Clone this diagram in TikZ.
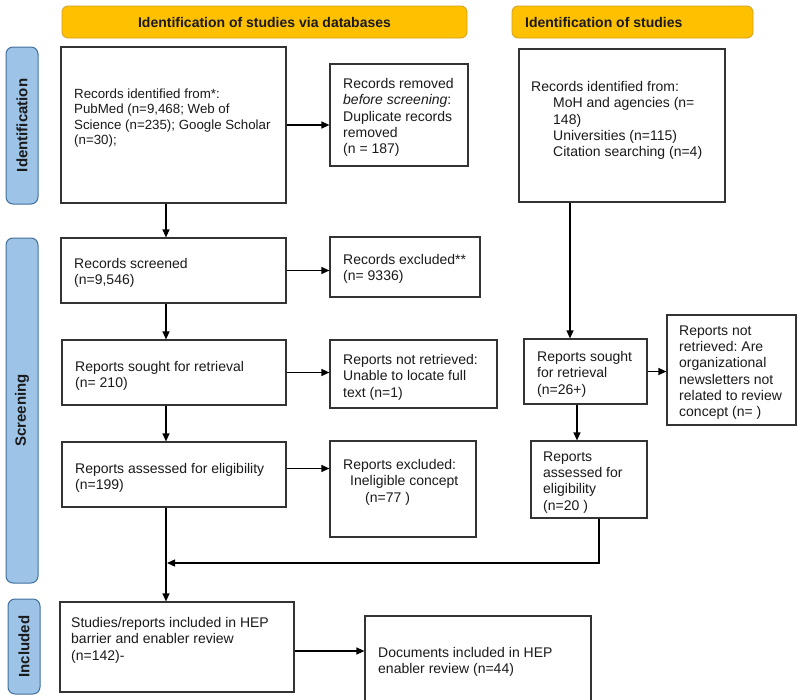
\documentclass[tikz,border=0pt]{standalone}
\usepackage{fontspec}
\setmainfont{Liberation Sans}
\usetikzlibrary{arrows.meta,calc}
\frenchspacing
\definecolor{hdrfill}{HTML}{FFC000}
\definecolor{hdrdraw}{HTML}{D4A017}
\definecolor{barfill}{HTML}{9DC3E6}
\definecolor{bardraw}{HTML}{41719C}
\definecolor{boxdraw}{HTML}{333333}
\definecolor{ink}{HTML}{1A1A1A}
\begin{document}
\begin{tikzpicture}[x=1pt,y=-1pt,
  box/.style={draw=boxdraw,line width=1.2pt,inner sep=0pt,fill=white},
  txt/.style={inner sep=0pt,align=left,anchor=north west,text=ink,yshift=3.7pt,
    font=\fontsize{14}{16.3}\selectfont,execute at begin node=\strut},
  txtsmall/.style={txt,yshift=0.5pt,font=\fontsize{13.3}{15.3}\selectfont},
  hdr/.style={draw=hdrdraw,fill=hdrfill,rounded corners=6pt,line width=0.8pt,inner sep=0pt},
  bar/.style={draw=bardraw,fill=barfill,rounded corners=7pt,line width=1pt,inner sep=0pt},
  hdrtxt/.style={font=\fontsize{14}{16}\selectfont\bfseries,text=ink,inner sep=0pt},
  bartxt/.style={font=\fontsize{15}{17}\selectfont\bfseries,text=ink,inner sep=0pt,rotate=90},
  arr/.style={draw=black,line width=1.2pt,-{Triangle[length=8pt,width=7pt]}}]
\useasboundingbox (0,0) rectangle (800,699);
\clip (0,0) rectangle (800,699);
\fill[white] (0,0) rectangle (800,699);

% headers
\node[hdr,minimum width=405,minimum height=32] (h1) at (264.5,22) {};
\node[hdrtxt] (h1t) at (h1.center) {Identification of studies via databases};
\node[hdr,minimum width=241,minimum height=32] (h2) at (632.5,22) {};
\node[hdrtxt,anchor=west] (h2t) at (525,22) {Identification of studies};

% side bars
\node[bar,minimum width=32,minimum height=157] (barI) at (22,125.5) {};
\node[bartxt] (barIt) at (barI.center) {Identification};
\node[bar,minimum width=32,minimum height=345] (barS) at (22,410.5) {};
\node[bartxt] (barSt) at (barS.center) {Screening};
\node[bar,minimum width=32,minimum height=95] (barN) at (24,646.5) {};
\node[bartxt] (barNt) at (barN.center) {Included};

% boxes
\node[box,minimum width=225,minimum height=156] (A) at (173.5,125) {};
\node[box,minimum width=138,minimum height=102] (rem) at (399,115) {};
\node[box,minimum width=206,minimum height=153] (B) at (622,125.5) {};
\node[box,minimum width=225,minimum height=65] (scr) at (173.5,270.5) {};
\node[box,minimum width=150,minimum height=60] (exc) at (405,267) {};
\node[box,minimum width=224,minimum height=65] (sou) at (174,372.5) {};
\node[box,minimum width=167,minimum height=68] (nr) at (413.5,374) {};
\node[box,minimum width=224,minimum height=65] (ass) at (174,474.5) {};
\node[box,minimum width=146,minimum height=96] (rex) at (403,489) {};
\node[box,minimum width=123,minimum height=65] (rsou) at (585.5,371.5) {};
\node[box,minimum width=129,minimum height=110] (rnr) at (731.5,370) {};
\node[box,minimum width=116,minimum height=77] (rass) at (589,479.5) {};
\node[box,minimum width=234,minimum height=90] (stu) at (177,647) {};
\node[box,minimum width=226,minimum height=104] (doc) at (478,668) {};

% texts
\node[txtsmall] (tA) at (74,93) {Records identified from*:\\PubMed (n=9,468; Web of\\Science (n=235); Google Scholar\\(n=30);};
\node[txt] (tRem) at (343,82) {Records removed\\\textit{before screening}:\\Duplicate records\\removed\\(n = 187)};
\node[txt] (tB) at (531,85) {Records identified from:\\\hspace*{22pt}MoH and agencies (n=\\\hspace*{22pt}148)\\\hspace*{22pt}Universities (n=115)\\\hspace*{22pt}Citation searching (n=4)};
\node[txt] (tScr) at (74,262) {Records screened\\(n=9,546)};
\node[txt] (tExc) at (343,258) {Records excluded**\\(n= 9336)};
\node[txt] (tSou) at (75,365) {Reports sought for retrieval\\(n= 210)};
\node[txt] (tNr) at (343,358) {Reports not retrieved:\\Unable to locate full\\text (n=1)};
\node[txt] (tAss) at (75,467) {Reports assessed for eligibility\\(n=199)};
\node[txt] (tRex) at (343,463) {Reports excluded:\\\hspace*{7pt}Ineligible concept\\\hspace*{22pt}(n=77 )};
\node[txt] (tRsou) at (537,355) {Reports sought\\for retrieval\\(n=26+)};
\node[txt] (tRnr) at (679,329) {Reports not\\retrieved: Are\\organizational\\newsletters not\\related to review\\concept (n= )};
\node[txt] (tRass) at (543,455) {Reports\\assessed for\\eligibility\\(n=20 )};
\node[txt] (tStu) at (71,621) {Studies/reports included in HEP\\barrier and enabler review\\(n=142)-};
\node[txt] (tDoc) at (378,651) {Documents included in HEP\\enabler review (n=44)};

% connector columns
\coordinate (cL) at (166,0);
\coordinate (cR1) at (570,0);
\coordinate (cR2) at (577,0);
\coordinate (cR3) at (599,0);
\coordinate (turn) at (599,563);

\draw[arr] (A.south -| cL) -- (scr.north -| cL);
\draw[arr] (A.east) -- (A.east -| rem.west);
\draw[arr] (scr.east) -- (scr.east -| exc.west);
\draw[arr] (scr.south -| cL) -- (sou.north -| cL);
\draw[arr] (sou.east) -- (sou.east -| nr.west);
\draw[arr] (sou.south -| cL) -- (ass.north -| cL);
\draw[arr] ([yshift=6pt]ass.east) -- ([yshift=6pt]ass.east -| rex.west);
\draw[arr] (ass.south -| cL) -- (stu.north -| cL);
\draw[arr] (B.south -| cR1) -- (rsou.north -| cR1);
\draw[arr] (rsou.east) -- (rsou.east -| rnr.west);
\draw[arr] (rsou.south -| cR2) -- (rass.north -| cR2);
\draw[arr,shorten >=1pt] (rass.south -| cR3) -- (turn) -- (turn -| cL);
\draw[arr] ([yshift=-4pt]stu.east) -- ([yshift=-4pt]stu.east -| doc.west);
\end{tikzpicture}
\end{document}
